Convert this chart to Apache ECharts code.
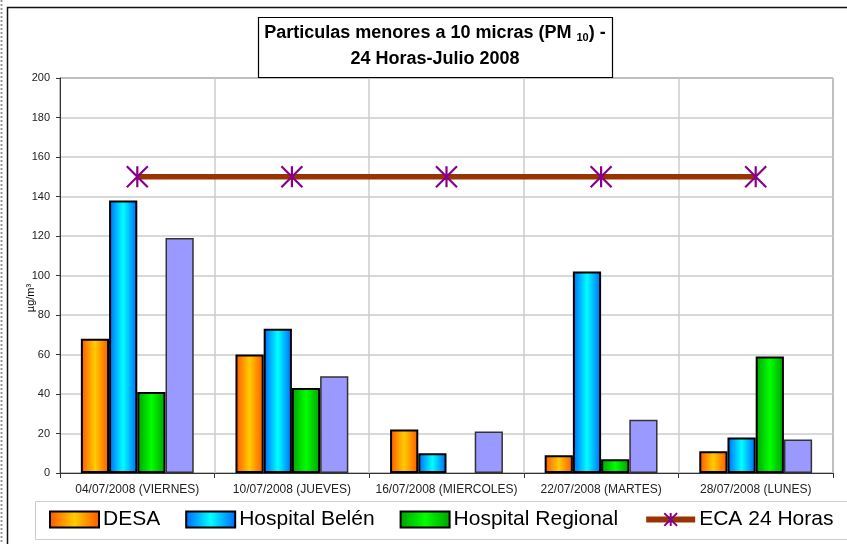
<!DOCTYPE html>
<html>
<head>
    <meta charset="utf-8">
    <title>PM10 Julio 2008</title>
    <script src="https://cdn.jsdelivr.net/npm/echarts@6/dist/echarts.min.js"></script>
    <style>
        html, body { margin: 0; padding: 0; background: #fff; }
    </style>
</head>
<body>
    <div id="main" style="width: 847px;height:544px;"></div>
    <script type="text/javascript">
        // datos
        var fechas = ['04/07/2008 (VIERNES)', '10/07/2008 (JUEVES)', '16/07/2008 (MIERCOLES)', '22/07/2008 (MARTES)', '28/07/2008 (LUNES)'];
        var desa = [68, 60, 22, 9, 11];
        var belen = [138, 73, 10, 102, 18];
        var regional = [41, 43, null, 7, 59];
        var otra = [119, 49, 21, 27, 17];
        var eca = [150, 150, 150, 150, 150];
        var yTicks = [0, 20, 40, 60, 80, 100, 120, 140, 160, 180, 200];

        var myChart = echarts.init(document.getElementById('main'));
        var fuente = 'Liberation Sans, Arial, sans-serif';

        function grad(edge, mid) {
            return {
                type: 'linear', x: 0, y: 0, x2: 1, y2: 0,
                colorStops: [
                    { offset: 0, color: edge },
                    { offset: 0.5, color: mid },
                    { offset: 1, color: edge }
                ]
            };
        }

        var asterisco = 'path://M0,0L20,20M20,0L0,20M10,0L10,20';

        var option = {
            animation: false,
            textStyle: { fontFamily: fuente },
            graphic: [
                { type: 'rect', shape: { x: 7.5, y: 7.5, width: 860, height: 560 }, style: { fill: 'none', stroke: '#111', lineWidth: 1.5 }, z: -10 },
                { type: 'line', shape: { x1: 1.5, y1: 0, x2: 1.5, y2: 544 }, style: { stroke: '#999', lineWidth: 2, lineDash: [2, 2] }, z: -10 },
                { type: 'rect', shape: { x: 35.5, y: 501.5, width: 820, height: 38 }, style: { fill: '#fff', stroke: '#ccc', lineWidth: 1 }, z: -5 },
                // caja del titulo
                { type: 'rect', shape: { x: 258.5, y: 17.5, width: 354, height: 60 }, style: { fill: '#fff', stroke: '#000', lineWidth: 1.2 }, z: 10 },
                { type: 'text', x: 435, y: 33, z: 11,
                  style: { text: 'Particulas menores a 10 micras (PM {sub|10}) -', fontSize: 18, fontWeight: 'bold', fill: '#000',
                           align: 'center', verticalAlign: 'middle', fontFamily: fuente,
                           rich: { sub: { fontSize: 11, fontWeight: 'bold', fill: '#000', padding: [9, 0, 0, 0], fontFamily: fuente } } } },
                { type: 'text', x: 435, y: 59, z: 11,
                  style: { text: '24 Horas-Julio 2008', fontSize: 18, fontWeight: 'bold', fill: '#000',
                           align: 'center', verticalAlign: 'middle', fontFamily: fuente } },
                { type: 'text', x: 31, y: 298, rotation: Math.PI / 2,
                  style: { text: 'µg/m³', fontSize: 11, fill: '#000', align: 'center', verticalAlign: 'middle', fontFamily: fuente } }
            ],
            legend: {
                data: [
                    { name: 'DESA', icon: 'rect' },
                    { name: 'Hospital Belén', icon: 'rect' },
                    { name: 'Hospital Regional', icon: 'rect' },
                    { name: 'ECA 24 Horas', lineStyle: { width: 6 } }
                ],
                left: 49,
                top: 509,
                padding: 0,
                itemWidth: 49,
                itemHeight: 16,
                itemGap: 25,
                textStyle: { fontSize: 21, color: '#000', padding: [0, 0, 0, -1] }
            },
            grid: {
                left: 60,
                right: 14,
                top: 78,
                bottom: 71,
                show: true,
                borderColor: '#333',
                borderWidth: 1
            },
            xAxis: {
                type: 'category',
                data: fechas,
                axisLine: { lineStyle: { color: '#333', width: 1 } },
                axisTick: { show: true, length: 5, lineStyle: { color: '#333' } },
                axisLabel: { fontSize: 12, color: '#222', margin: 11, interval: 0 },
                splitLine: { show: true, lineStyle: { color: '#ccc', width: 1.5 } }
            },
            yAxis: {
                type: 'value',
                min: yTicks[0],
                max: yTicks[yTicks.length - 1],
                interval: 20,
                axisLine: { show: true, lineStyle: { color: '#333', width: 1 } },
                axisTick: { show: true, length: 4, lineStyle: { color: '#333' } },
                axisLabel: { fontSize: 11, color: '#222', margin: 10 },
                splitLine: { show: true, lineStyle: { color: '#ccc', width: 1.5 } }
            },
            series: [
                {
                    name: 'DESA', type: 'bar', data: desa,
                    barGap: '0%', barCategoryGap: '27%',
                    itemStyle: { color: grad('#ff5500', '#ffcc00'), borderColor: '#000', borderWidth: 2 }
                },
                {
                    name: 'Hospital Belén', type: 'bar', data: belen,
                    itemStyle: { color: grad('#0066ff', '#00ffff'), borderColor: '#000', borderWidth: 2 }
                },
                {
                    name: 'Hospital Regional', type: 'bar', data: regional,
                    itemStyle: { color: grad('#00a000', '#00ff00'), borderColor: '#000', borderWidth: 2 }
                },
                {
                    name: 'Otra estación', type: 'bar', data: otra,
                    itemStyle: { color: '#9999ff', borderColor: '#333', borderWidth: 1.5 }
                },
                {
                    name: 'ECA 24 Horas', type: 'line', data: eca,
                    symbol: asterisco,
                    symbolSize: 21,
                    lineStyle: { color: '#993300', width: 5.5 },
                    itemStyle: { color: 'transparent', borderColor: '#880088', borderWidth: 2.2 },
                    z: 5
                }
            ]
        };

        myChart.setOption(option);
    </script>
</body>
</html>
